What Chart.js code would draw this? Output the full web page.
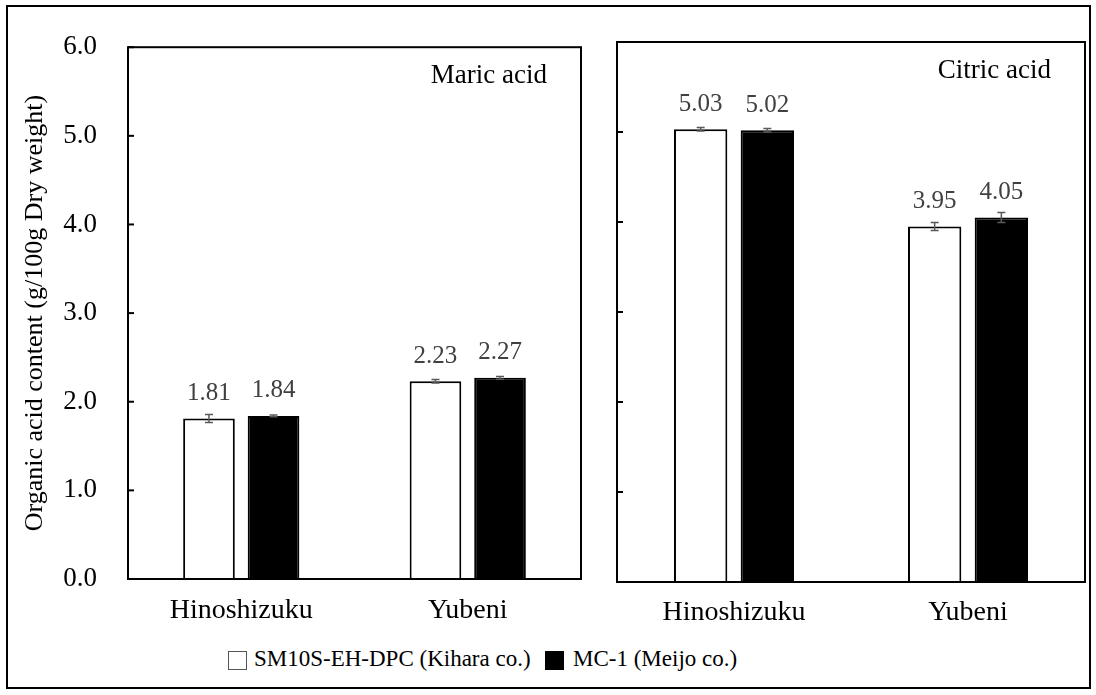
<!DOCTYPE html>
<html>
<head>
<meta charset="utf-8">
<script src="https://cdn.jsdelivr.net/npm/chart.js@4.4.0/dist/chart.umd.min.js"></script>
<style>
  body { margin: 0; background: #fff; width: 1096px; height: 695px; position: relative; overflow: hidden; font-family: "Liberation Serif", "DejaVu Serif", serif; }
  #frame { position: absolute; left: 6px; top: 5px; width: 1081px; height: 680px; border: 2px solid #000; }
  .box { position: absolute; top: 0; height: 640px; }
  .sw { position: absolute; top: 651px; width: 19px; height: 19px; box-sizing: border-box; }
  .lt { position: absolute; top: 646px; font-size: 23px; color: #000; white-space: nowrap; }
</style>
</head>
<body>
<div id="frame"></div>
<div class="box" style="left:0;width:600px"><canvas id="malic"></canvas></div>
<div class="box" style="left:600px;width:496px"><canvas id="citric"></canvas></div>
<div id="legend"></div>
<script>
const categories = ['Hinoshizuku', 'Yubeni'];
const seriesNames = ['SM10S-EH-DPC (Kihara co.)', 'MC-1 (Meijo co.)'];
const yTicks = [0, 1, 2, 3, 4, 5, 6];

const malicKihara = [1.81, 2.23];
const malicMeijo = [1.84, 2.27];
const malicKiharaErr = [0.045, 0.02];
const malicMeijoErr = [0.01, 0.015];

const citricKihara = [5.03, 3.95];
const citricMeijo = [5.02, 4.05];
const citricKiharaErr = [0.02, 0.045];
const citricMeijoErr = [0.02, 0.055];

const serif = "'Liberation Serif', 'DejaVu Serif', serif";

// error bars, value labels, frame, inner ticks and panel title
const panelPlugin = {
  id: 'panel',
  afterDatasetsDraw(chart, args, opts) {
    const { ctx, chartArea: a, scales: { y } } = chart;
    ctx.save();
    chart.data.datasets.forEach((ds, i) => {
      const meta = chart.getDatasetMeta(i);
      meta.data.forEach((bar, j) => {
        const v = ds.data[j], e = ds.errors[j];
        const hi = y.getPixelForValue(v + e), lo = y.getPixelForValue(v - e);
        ctx.strokeStyle = '#5a5a5a';
        ctx.lineWidth = 1.5;
        ctx.beginPath();
        ctx.moveTo(bar.x, hi); ctx.lineTo(bar.x, lo);
        ctx.moveTo(bar.x - 4, hi); ctx.lineTo(bar.x + 4, hi);
        ctx.moveTo(bar.x - 4, lo); ctx.lineTo(bar.x + 4, lo);
        ctx.stroke();
        ctx.fillStyle = '#404040';
        ctx.font = '25px ' + serif;
        ctx.textAlign = 'center';
        ctx.textBaseline = 'middle';
        ctx.fillText(v.toFixed(2), bar.x, bar.y - 25);
      });
    });
    ctx.strokeStyle = '#000';
    ctx.lineWidth = 2;
    ctx.strokeRect(a.left, a.top, a.right - a.left, a.bottom - a.top);
    yTicks.forEach(t => {
      const py = y.getPixelForValue(t);
      ctx.beginPath();
      ctx.moveTo(a.left, py);
      ctx.lineTo(a.left + 6, py);
      ctx.stroke();
    });
    ctx.fillStyle = '#000';
    ctx.font = '27px ' + serif;
    ctx.textAlign = 'right';
    ctx.textBaseline = 'middle';
    ctx.fillText(opts.title, a.right - 34, a.top + 29);
    ctx.restore();
  }
};

function makeChart(id, kihara, meijo, kErr, mErr, title, cfg) {
  return new Chart(document.getElementById(id), {
    type: 'bar',
    data: {
      labels: categories,
      datasets: [
        { label: seriesNames[0], data: kihara, errors: kErr, backgroundColor: '#fff', borderColor: '#000', borderWidth: 2 },
        { label: seriesNames[1], data: meijo, errors: mErr, backgroundColor: '#000', borderColor: '#000', borderWidth: 2 }
      ]
    },
    options: {
      responsive: true,
      maintainAspectRatio: false,
      animation: false,
      categoryPercentage: 0.57,
      barPercentage: 0.8,
      layout: { padding: { top: cfg.top, right: cfg.right, left: 0, bottom: 0 } },
      plugins: { legend: { display: false }, tooltip: { enabled: false }, panel: { title: title } },
      scales: {
        x: {
          grid: { display: false, drawTicks: false },
          border: { display: false },
          ticks: { color: '#000', padding: cfg.xPad, font: { family: serif, size: 28 } },
          afterFit(s) { s.height = cfg.xHeight; }
        },
        y: {
          min: 0, max: 6,
          grid: { display: false, drawTicks: false },
          border: { display: false },
          ticks: {
            display: cfg.labels, stepSize: 1, padding: 31, color: '#000',
            font: { family: serif, size: 27 },
            callback: v => v.toFixed(1)
          },
          title: {
            display: cfg.labels, text: 'Organic acid content (g/100g Dry weight)',
            color: '#000', font: { family: serif, size: 26 }, padding: { top: 20, bottom: 0 }
          },
          afterFit(s) { s.width = cfg.yWidth; }
        }
      }
    },
    plugins: [panelPlugin]
  });
}

makeChart('malic', malicKihara, malicMeijo, malicKiharaErr, malicMeijoErr, 'Maric acid',
  { top: 39, right: 19, yWidth: 128, xHeight: 61, xPad: 15, labels: true });
makeChart('citric', citricKihara, citricMeijo, citricKiharaErr, citricMeijoErr, 'Citric acid',
  { top: 42, right: 11, yWidth: 17, xHeight: 58, xPad: 14, labels: false });

// shared legend
const legend = document.getElementById('legend');
const legendPos = [[228, 254, '#fff'], [545, 573, '#000']];
seriesNames.forEach((name, i) => {
  const [sx, tx, fill] = legendPos[i];
  const sw = document.createElement('span');
  sw.className = 'sw';
  sw.style.left = sx + 'px';
  sw.style.background = fill;
  sw.style.border = '1px solid ' + (i === 0 ? '#555' : '#000');
  const lt = document.createElement('span');
  lt.className = 'lt';
  lt.style.left = tx + 'px';
  lt.textContent = name;
  legend.appendChild(sw);
  legend.appendChild(lt);
});
</script>
</body>
</html>
